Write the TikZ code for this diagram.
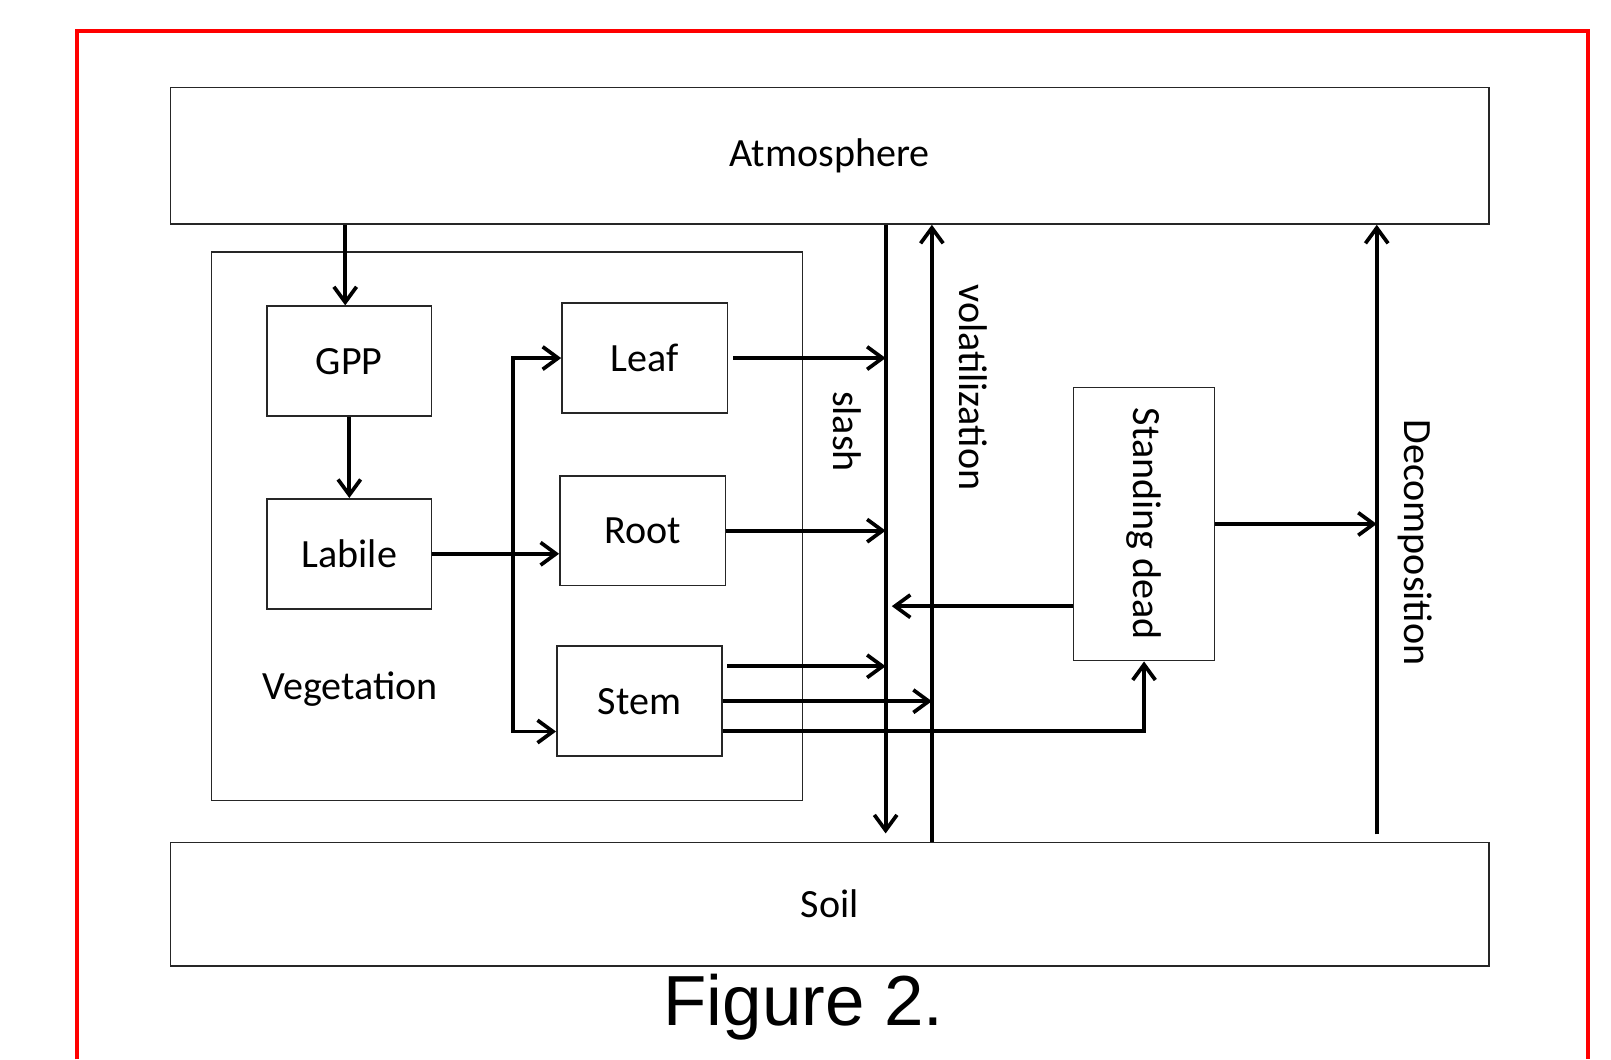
\documentclass[tikz,border=0pt]{standalone}
\usepackage{fontspec}
\setmainfont{Carlito}
\newfontfamily\figfont{Liberation Sans}
\usepackage{graphicx}
\usetikzlibrary{arrows.meta, positioning, calc}

\tikzset{
  box/.style={draw=black!85, line width=0.8pt, inner sep=0pt, font=\fontsize{19.5}{23}\selectfont},
  pool/.style={box, minimum width=80.5pt, minimum height=53.5pt},
  flow/.style={line width=1.8pt, -{Straight Barb[length=7.5pt,width=11pt]}},
  tag/.style={font=\fontsize{19.5}{23}\selectfont, rotate=-90},
}

\begin{document}
\begin{tikzpicture}[x=0.5pt, y=-0.5pt]
  \useasboundingbox (0,0) rectangle (1568,1031);
  \draw[red, line width=2pt] (75,1031) -- (75,30) -- (1546,30) -- (1546,1031);

  \node[box, minimum width=641.5pt, minimum height=66.5pt] (atm) at (807.5,151.5) {Atmosphere};
  \node[box, minimum width=641.5pt, minimum height=60pt] (soil) at (807.5,880) {Soil};
  \node[box, minimum width=287.5pt, minimum height=267pt] (veg) at (493.5,512) {};
  \node[font=\fontsize{19.5}{23}\selectfont] (veglabel) at (341,671) {Vegetation};
  \node[pool, minimum width=80pt] (gpp) at (340,351.5) {GPP};
  \node[pool, minimum width=80pt] (labile) at (340,539) {Labile};
  \node[pool] (leaf) at (627.5,348.5) {Leaf};
  \node[pool] (root) at (625.5,516.5) {Root};
  \node[pool] (stem) at (622.5,682.5) {Stem};
  \node[box, minimum width=68.5pt, minimum height=133pt] (dead) at (1113.5,510) {\rotatebox{-90}{Standing dead}};

  \coordinate (slashx) at (862,0);
  \coordinate (volx) at (907,0);
  \coordinate (decx) at (1340,0);
  \coordinate (branch) at (499,712);
  \coordinate (deadout) at ([yshift=-40pt]dead.west);

  \draw[flow] (atm.south -| gpp.north) ++(-2pt,0) -- ([xshift=-2pt]gpp.north);
  \draw[flow] (gpp) -- (labile);
  \draw[flow] (labile.east) -- (labile.east -| root.west);
  \draw[flow, {Straight Barb[length=7.5pt,width=11pt]}-{Straight Barb[length=7.5pt,width=11pt]}]
    (leaf.west) -| (branch) -- (branch -| stem.west);

  \draw[flow, shorten >=4pt] (atm.south -| slashx) -- (soil.north -| slashx);
  \draw[flow] (soil.north -| volx) -- (atm.south -| volx);
  \draw[flow, shorten <=3.5pt] (soil.north -| decx) -- (atm.south -| decx);

  \draw[flow] ([xshift=2.5pt]leaf.east) -- (leaf.east -| slashx);
  \draw[flow] (root.east) -- (root.east -| slashx);
  \draw[flow] ([xshift=2pt,yshift=17pt]stem.east) -- ([yshift=17pt]stem.east -| slashx);
  \draw[flow] (stem.east) -- (stem.east -| volx);
  \draw[flow] ([yshift=-14.5pt]stem.east) -| (dead.south);
  \draw[flow, shorten >=3pt] (deadout) -- (deadout -| slashx);
  \draw[flow] (dead.east) -- (dead.east -| decx);

  \node[tag] (slashlabel) at (825,420) {slash};
  \node[tag] (vollabel) at (947,377) {volatilization};
  \node[tag] (declabel) at (1377,528) {Decomposition};
  \node[font=\figfont\fontsize{34.5}{40}\selectfont] (caption) at (782,980) {Figure 2.};
\end{tikzpicture}
\end{document}
